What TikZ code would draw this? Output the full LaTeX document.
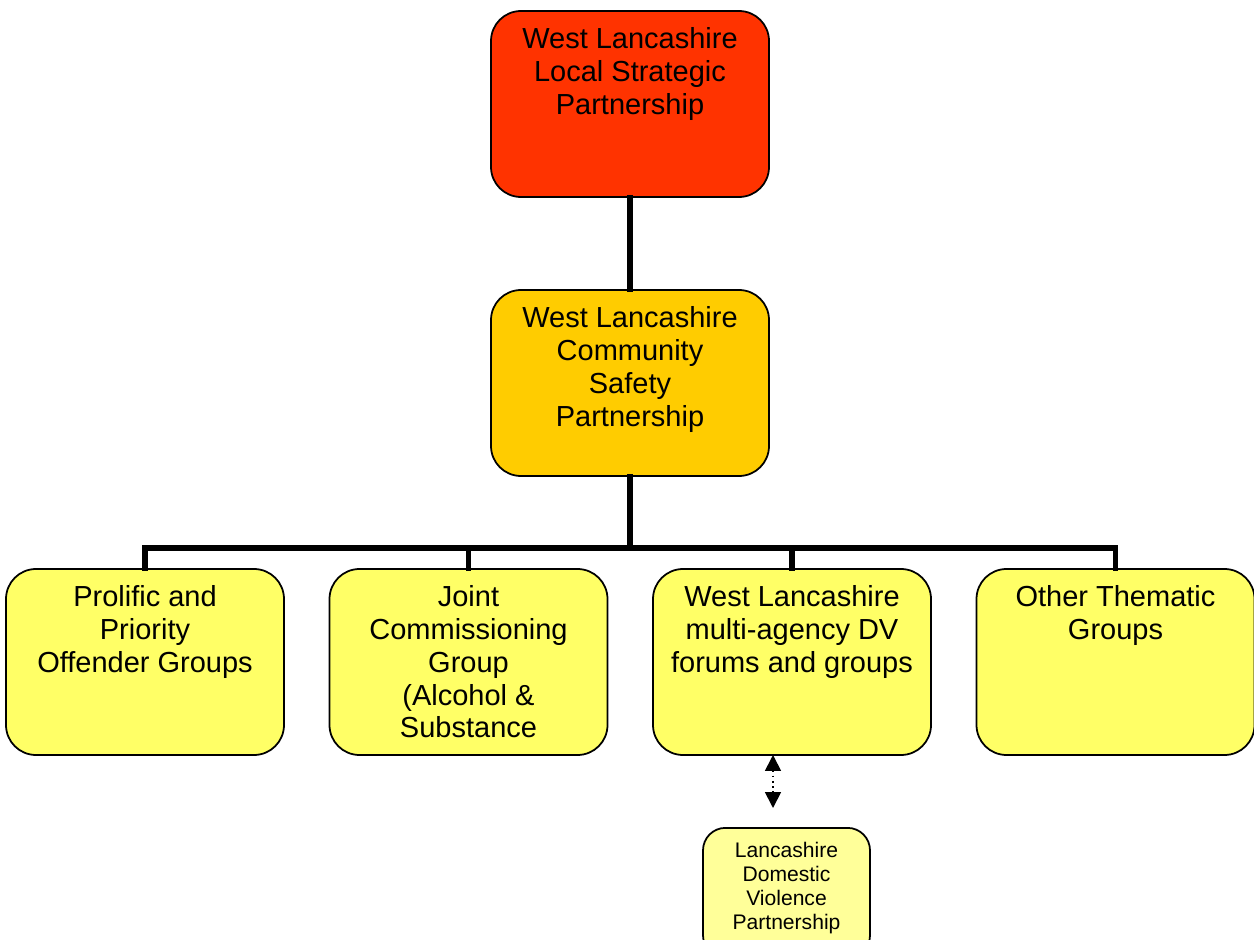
\documentclass[tikz,border=0pt]{standalone}
\usepackage{fontspec}
\setmainfont{Liberation Sans}
\usetikzlibrary{arrows.meta}
\definecolor{lspred}{HTML}{FF3300}
\definecolor{csporange}{HTML}{FFCC00}
\definecolor{grpyellow}{HTML}{FFFF66}
\definecolor{dvyellow}{HTML}{FFFF99}
\begin{document}
\begin{tikzpicture}[
    box/.style={draw,line width=1pt,rounded corners=0.6cm,minimum width=5.56cm,minimum height=3.72cm,inner sep=0pt},
    smallbox/.style={draw,line width=1pt,rounded corners=0.45cm,minimum width=3.34cm,minimum height=2.6cm,inner sep=0pt,fill=dvyellow},
    txt/.style={anchor=north,align=center,inner sep=0pt,yshift=-9.7pt,font=\fontsize{16.5}{18.7}\selectfont},
    smalltxt/.style={anchor=north,align=center,inner sep=0pt,yshift=-8.4pt,font=\fontsize{12}{13.6}\selectfont},
    conn/.style={line width=3pt,line join=miter,line cap=rect}]
    \useasboundingbox (0,0) rectangle (25.08,-18.8);
    % boxes
    \node[box,fill=lspred] (lsp) at (12.6,-2.08) {};
    \node[box,fill=csporange] (csp) at (12.6,-7.66) {};
    \node[box,fill=grpyellow] (ppo) at (2.9,-13.24) {};
    \node[box,fill=grpyellow] (jcg) at (9.37,-13.24) {};
    \node[box,fill=grpyellow] (dvf) at (15.84,-13.24) {};
    \node[box,fill=grpyellow] (oth) at (22.31,-13.24) {};
    \node[smallbox,anchor=north] (ldvp) at (15.73,-16.54) {};
    % texts
    \node[txt] (lsptxt) at (lsp.north) {West Lancashire\\Local Strategic\\Partnership};
    \node[txt] (csptxt) at (csp.north) {West Lancashire\\Community\\Safety\\Partnership};
    \node[txt] (ppotxt) at (ppo.north) {Prolific and\\Priority\\Offender Groups};
    \node[txt] (jcgtxt) at (jcg.north) {Joint\\Commissioning\\Group\\(Alcohol \&\\Substance};
    \node[txt] (dvftxt) at (dvf.north) {West Lancashire\\multi-agency DV\\forums and groups};
    \node[txt] (othtxt) at (oth.north) {Other Thematic\\Groups};
    \node[smalltxt] (ldvptxt) at (ldvp.north) {Lancashire\\Domestic\\Violence\\Partnership};
    % connectors
    \coordinate (bus) at (12.6,-10.96);
    \coordinate (dvtop) at (15.46,-15.1);
    \coordinate (dvbot) at (15.46,-16.16);
    \draw[conn] (lsp.south) -- (csp.north);
    \draw[conn] (csp.south) -- (bus);
    \draw[conn] (ppo.north) |- (oth.north |- bus) -- (oth.north);
    \draw[conn] (jcg.north) -- (jcg.north |- bus);
    \draw[conn] (dvf.north) -- (dvf.north |- bus);
    \draw[line width=1pt,dotted,{Triangle[width=9pt,length=9pt]}-{Triangle[width=9pt,length=9pt]}] (dvtop) -- (dvbot);
\end{tikzpicture}
\end{document}
